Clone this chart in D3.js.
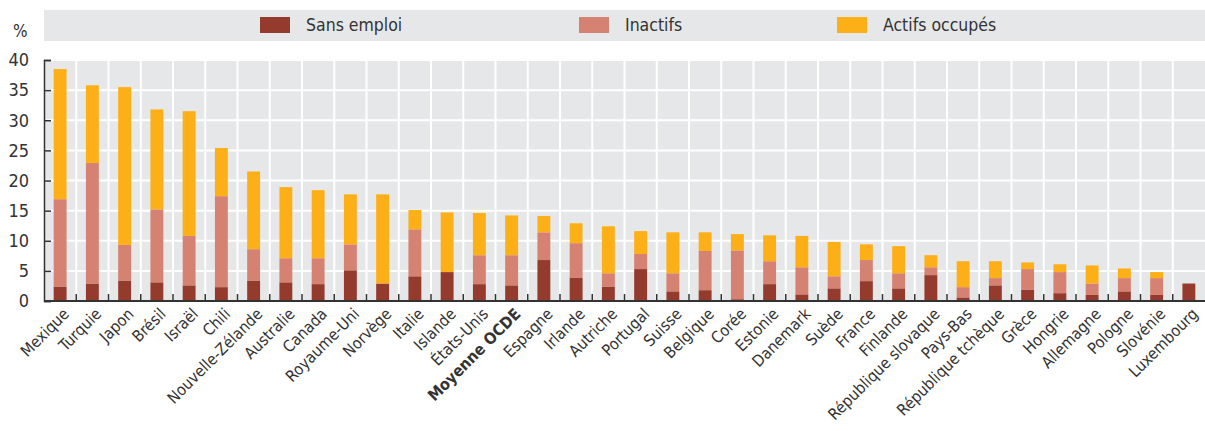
<!DOCTYPE html>
<html>
<head>
<meta charset="utf-8">
<script src="https://cdn.jsdelivr.net/npm/d3@7"></script>
<style>
  body { margin: 0; background: #fff; }
  text { font-family: "Liberation Sans Narrow", "DejaVu Sans Condensed", "Roboto", sans-serif; fill: #333; }
</style>
</head>
<body>
<script>
// data (percent)
const countries = ["Mexique", "Turquie", "Japon", "Brésil", "Israël", "Chili", "Nouvelle-Zélande", "Australie",
  "Canada", "Royaume-Uni", "Norvège", "Italie", "Islande", "États-Unis", "Moyenne OCDE", "Espagne", "Irlande",
  "Autriche", "Portugal", "Suisse", "Belgique", "Corée", "Estonie", "Danemark", "Suède", "France", "Finlande",
  "République slovaque", "Pays-Bas", "République tchèque", "Grèce", "Hongrie", "Allemagne", "Pologne",
  "Slovénie", "Luxembourg"];
const sansEmploi = [2.4, 2.9, 3.4, 3.1, 2.6, 2.3, 3.4, 3.1, 2.8, 5.1, 2.9, 4.1, 4.8, 2.8, 2.6, 6.8, 3.9,
  2.4, 5.3, 1.6, 1.8, 0.3, 2.8, 1.1, 2.1, 3.3, 2.1, 4.3, 0.6, 2.6, 1.9, 1.3, 1.0, 1.6, 1.0, 2.9];
const inactifs = [14.5, 20.0, 5.9, 12.1, 8.2, 15.1, 5.2, 4.0, 4.3, 4.3, 0, 7.8, 0, 4.8, 5.0, 4.6, 5.7,
  2.2, 2.5, 3.0, 6.5, 8.1, 3.8, 4.5, 2.0, 3.5, 2.5, 1.3, 1.7, 1.2, 3.4, 3.5, 1.9, 2.2, 2.8, 0];
const actifsOccupes = [21.6, 12.9, 26.2, 16.6, 20.7, 8.0, 12.9, 11.8, 11.3, 8.3, 14.8, 3.2, 9.9, 7.0, 6.6, 2.7, 3.3,
  7.8, 3.8, 6.8, 3.1, 2.7, 4.3, 5.2, 5.7, 2.6, 4.5, 2.0, 4.3, 2.8, 1.1, 1.3, 3.0, 1.6, 1.0, 0];
const seriesNames = ["Sans emploi", "Inactifs", "Actifs occupés"];
const colors = ["#943b2e", "#d68272", "#fdaf17"];
const yTicks = [0, 5, 10, 15, 20, 25, 30, 35, 40];

const W = 1205, H = 431;
const margin = { top: 60, right: 0, bottom: 130, left: 44 };
const plotBottom = H - margin.bottom; // ~301

const rows = countries.map((c, i) => ({ country: c, s0: sansEmploi[i], s1: inactifs[i], s2: actifsOccupes[i] }));
const stack = d3.stack().keys(["s0", "s1", "s2"])(rows);

const svg = d3.select("body").append("svg")
  .attr("width", W).attr("height", H);

const x = d3.scaleBand()
  .domain(countries)
  .range([margin.left, W - margin.right])
  .paddingInner(0.6)
  .paddingOuter(0.3);

const y = d3.scaleLinear()
  .domain([0, 40])
  .range([plotBottom, margin.top]);

// legend band
svg.append("rect")
  .attr("x", 44).attr("y", 10).attr("width", W - 44).attr("height", 31)
  .attr("fill", "#e6e7e8");

const legendX = [260, 579, 837];
seriesNames.forEach((name, i) => {
  svg.append("rect")
    .attr("x", legendX[i]).attr("y", 17).attr("width", 30).attr("height", 16)
    .attr("fill", colors[i]);
  svg.append("text")
    .attr("x", legendX[i] + 46).attr("y", 31)
    .style("font-size", "17.5px")
    .text(name);
});

svg.append("text")
  .attr("x", 13).attr("y", 37)
  .style("font-size", "17px")
  .text("%");

// plot background
svg.append("rect")
  .attr("x", margin.left).attr("y", margin.top)
  .attr("width", W - margin.left - margin.right).attr("height", plotBottom - margin.top)
  .attr("fill", "#e6e7e8");

// horizontal grid
svg.append("g").selectAll("line")
  .data(yTicks.slice(1))
  .join("line")
  .attr("x1", margin.left).attr("x2", W)
  .attr("y1", d => y(d)).attr("y2", d => y(d))
  .attr("stroke", "#fff").attr("stroke-width", 2);

// vertical grid at category boundaries
const step = x.step();
svg.append("g").selectAll("line")
  .data(countries.slice(1))
  .join("line")
  .attr("x1", (d, i) => margin.left + step * (i + 1))
  .attr("x2", (d, i) => margin.left + step * (i + 1))
  .attr("y1", margin.top).attr("y2", plotBottom)
  .attr("stroke", "#fff").attr("stroke-width", 2);

// bars
svg.append("g").selectAll("g")
  .data(stack)
  .join("g")
  .attr("fill", (d, i) => colors[i])
  .selectAll("rect")
  .data(d => d)
  .join("rect")
  .attr("x", d => x(d.data.country))
  .attr("width", x.bandwidth())
  .attr("y", d => y(d[1]))
  .attr("height", d => y(d[0]) - y(d[1]));

// y axis
const yAxis = svg.append("g")
  .attr("transform", `translate(${margin.left},0)`)
  .call(d3.axisRight(y).tickValues(yTicks).tickSize(7).tickFormat(d3.format("d")));
yAxis.select(".domain").attr("stroke", "#333").attr("stroke-width", 1.5);
yAxis.selectAll(".tick line").attr("stroke", "#333").attr("stroke-width", 1.5);
yAxis.selectAll(".tick text")
  .attr("x", -15).attr("text-anchor", "end")
  .style("font-size", "18px").attr("fill", "#333");

// x axis line and boundary ticks
svg.append("line")
  .attr("x1", margin.left).attr("x2", W)
  .attr("y1", plotBottom).attr("y2", plotBottom)
  .attr("stroke", "#333").attr("stroke-width", 2);
svg.append("g").selectAll("line")
  .data(countries.slice(1))
  .join("line")
  .attr("x1", (d, i) => margin.left + step * (i + 1))
  .attr("x2", (d, i) => margin.left + step * (i + 1))
  .attr("y1", plotBottom - 7).attr("y2", plotBottom)
  .attr("stroke", "#333").attr("stroke-width", 1.5);

// x labels
svg.append("g").selectAll("text")
  .data(countries)
  .join("text")
  .attr("transform", d => `translate(${x(d) + x.bandwidth() / 2 + 6},${plotBottom + 10}) rotate(-45)`)
  .attr("text-anchor", "end")
  .attr("dy", "0.35em")
  .style("font-size", "16px")
  .style("font-weight", d => d === "Moyenne OCDE" ? "bold" : "normal")
  .text(d => d);
</script>
</body>
</html>
